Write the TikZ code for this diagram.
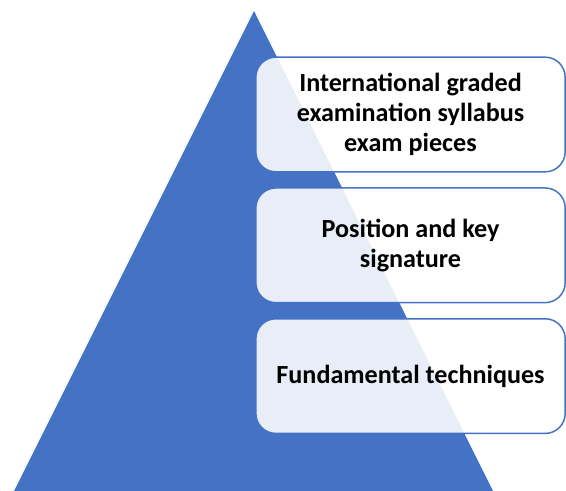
\documentclass[tikz,border=0pt]{standalone}
\usepackage{fontspec}
\setmainfont{Carlito}
\usetikzlibrary{positioning}
\definecolor{pyrblue}{HTML}{4472C4}
\tikzset{
  level/.style={draw=pyrblue, line width=1.1pt, rounded corners=15pt,
    fill=white, fill opacity=0.88, text opacity=1,
    minimum width=232pt, minimum height=86pt, align=center,
    font=\fontsize{19.6}{22.5}\selectfont\bfseries}
}
\begin{document}
\begin{tikzpicture}[x=0.75pt,y=-0.75pt]
\useasboundingbox (0,0) rectangle (566,491);
\coordinate (top) at (254,11);
\coordinate (left) at (14,491);
\coordinate (right) at (493,491);
\fill[color=pyrblue] (top) -- (left) -- (right) -- cycle;

\node[level] (exam) at (410.5,114.5) {International graded\\examination syllabus\\exam pieces};
\node[level, below=11pt of exam] (pos) {Position and key\\signature};
\node[level, below=11pt of pos] (fund) {Fundamental techniques};
\end{tikzpicture}
\end{document}
